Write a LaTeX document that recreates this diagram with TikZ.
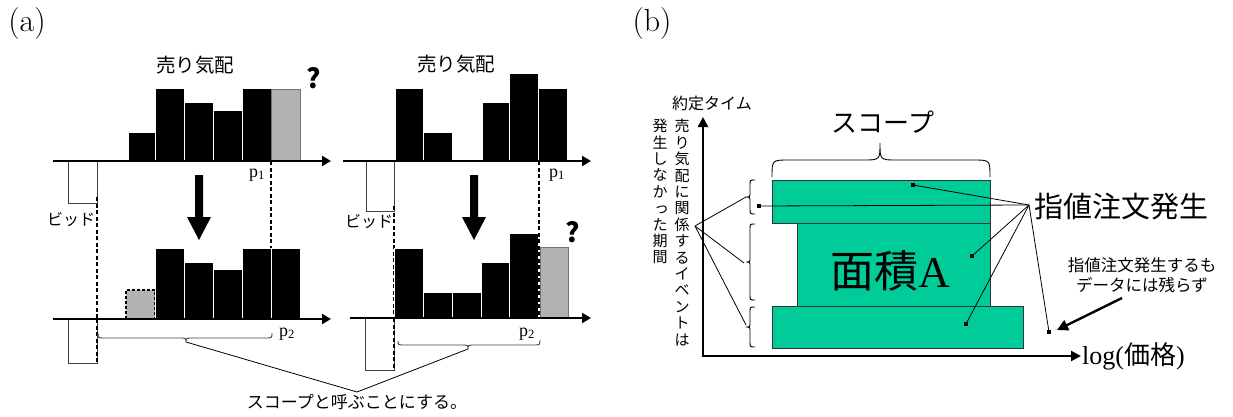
\documentclass[tikz,border=0pt]{standalone}
\usepackage{fontspec}
\newfontfamily\jp{Noto Sans CJK JP}
\newfontfamily\tms{Liberation Serif}
\usetikzlibrary{arrows.meta}
\definecolor{areagreen}{RGB}{0,204,153}
\definecolor{bargray}{RGB}{178,178,178}
\tikzset{
  bar/.style={fill=black, draw=white, line width=1pt},
  gbar/.style={fill=bargray, draw=black!55, line width=0.6pt},
  gbardash/.style={fill=bargray, draw=black, line width=1.2pt, dash pattern=on 3pt off 2pt},
  axisline/.style={line width=2.6pt, -{Triangle[length=9pt,width=10pt]}},
  baxis/.style={line width=2.2pt, -{Triangle[length=10pt,width=10pt]}},
  dashv/.style={line width=1.6pt, dash pattern=on 4pt off 2.5pt},
  bidbox/.style={draw=black!75, line width=0.8pt, fill=white},
  thin/.style={line width=0.8pt},
  bracepath/.style={line width=0.9pt, draw=black!75},
  dot/.style={fill=black, minimum size=3.5pt, inner sep=0pt, rectangle},
  area/.style={fill=areagreen, draw=black!80, line width=0.8pt},
  lbl/.style={inner sep=0pt},
  qmark/.style={inner sep=0pt, font=\jp\bfseries\fontsize{27}{27}\selectfont},
}
\begin{document}
\begin{tikzpicture}[x=1pt,y=-1pt]
\useasboundingbox (0,0) rectangle (1233,417);

% ---------- panel labels ----------
\node[lbl, font=\fontsize{32}{32}\selectfont] (pa) at (27,24) {(a)};
\node[lbl, font=\fontsize{32}{32}\selectfont] (pb) at (652,24) {(b)};

% ================= (a) left chart =================
\node[lbl, font=\jp\fontsize{19.5}{20}\selectfont] (sl) at (195,65) {売り気配};
\foreach \a/\b/\t in {128/155/132, 155/184/89, 184/213/103, 213/242/111, 242/271/89}
  \draw[bar] (\a,161) rectangle (\b,\t);
\draw[gbar] (271,161) rectangle (300,89);
\node[qmark] (q1) at (314,78) {?};
\draw[bidbox] (68,161) rectangle (97,203);
\draw[dashv] (271,161) -- (271,248);
\draw[axisline] (53,161) -- (331,161);
\node[lbl, font=\tms\fontsize{18}{18}\selectfont] (p1l) at (257,175) {p\textsubscript{1}};
\node[lbl, font=\jp\fontsize{16}{16}\selectfont] (bl) at (71,220) {ビッド};
\draw[dashv] (97,197) -- (97,363);
\fill (195,175) -- (203,175) -- (203,217) -- (211,217) -- (199,240) -- (187,217) -- (195,217) -- cycle;

\draw[gbardash] (126,319) rectangle (155,290);
\foreach \a/\b/\t in {155/184/248, 184/213/262, 213/242/269, 242/271/248, 271/300/248}
  \draw[bar] (\a,319) rectangle (\b,\t);
\draw[bidbox] (68,319) rectangle (97,363);
\draw[dashv] (97,319) -- (97,363);
\draw[axisline] (53,319) -- (331,319);
\node[lbl, font=\tms\fontsize{18}{18}\selectfont] (p2l) at (287,334) {p\textsubscript{2}};
\draw[bracepath] (98,333) .. controls (98,338) .. (105,338) -- (179,338) .. controls (186,338) .. (186,342)
   .. controls (186,338) .. (193,338) -- (265,338) .. controls (272,338) .. (272,333);
\coordinate (btl) at (186,342);

% ================= (a) right chart =================
\node[lbl, font=\jp\fontsize{19.5}{20}\selectfont] (sr) at (456,64) {売り気配};
\foreach \a/\b/\t in {395/423/89, 423/452/132, 482/509/103, 509/538/74, 538/567/89}
  \draw[bar] (\a,161) rectangle (\b,\t);
\draw[bidbox] (366,161) rectangle (394,211);
\draw[axisline] (343,161) -- (591,161);
\node[lbl, font=\tms\fontsize{18}{18}\selectfont] (p1r) at (557,175) {p\textsubscript{1}};
\node[lbl, font=\jp\fontsize{16}{16}\selectfont] (br) at (369,222) {ビッド};
\draw[dashv] (394,206) -- (394,370);
\fill (470,175) -- (478,175) -- (478,217) -- (486,217) -- (474,240) -- (462,217) -- (470,217) -- cycle;

\foreach \a/\b/\t in {394/423/248, 423/452/292, 452/481/292, 481/509/262, 509/538/233}
  \draw[bar] (\a,318) rectangle (\b,\t);
\draw[gbar] (540,318) rectangle (568,247);
\node[qmark] (q2) at (573,232) {?};
\draw[dashv] (539,161) -- (539,318);
\draw[bidbox] (365,318) rectangle (394,370);
\draw[dashv] (394,318) -- (394,370);
\draw[axisline] (350,318) -- (591,318);
\node[lbl, font=\tms\fontsize{18}{18}\selectfont] (p2r) at (527,334) {p\textsubscript{2}};
\draw[bracepath] (398,341) .. controls (398,345) .. (405,345) -- (461,345) .. controls (468,345) .. (468,349)
   .. controls (468,345) .. (475,345) -- (533,345) .. controls (540,345) .. (540,340);
\coordinate (btr) at (468,349);

\coordinate (scv) at (357,392);
\draw[thin] (btl) -- (scv) -- (btr);
\node[lbl, font=\jp\fontsize{17}{17}\selectfont] (scope) at (357,402) {スコープと呼ぶことにする。};

% ================= (b) =================
\draw[area] (772,306) rectangle (1023,348);
\draw[area] (797,223) rectangle (990,306);
\draw[area] (772,180) rectangle (990,223);

\draw[baxis] (703,357) -- (703,117);
\draw[baxis] (702,356) -- (1081,356);

\node[lbl, font=\jp\fontsize{16}{16}\selectfont] (yl) at (712,103) {約定タイム};
\node[lbl, anchor=west, font=\fontsize{26}{26}\selectfont] (xl) at (1082,356) {\tms log(\jp 価格\tms )};

\node[lbl, anchor=north, align=center, font=\jp\fontsize{15}{16.4}\selectfont] (vt1) at (682,119)
  {売\\り\\気\\配\\に\\関\\係\\す\\る\\イ\\ベ\\ン\\ト\\は};
\node[lbl, anchor=north, align=center, font=\jp\fontsize{15}{16.4}\selectfont] (vt2) at (660,119)
  {発\\生\\し\\な\\か\\\hspace{3pt}っ\\た\\期\\間};

\node[lbl, font=\jp\fontsize{26}{26}\selectfont] (sc) at (883,122) {スコープ};
\draw[bracepath, draw=black] (772,177) .. controls (772,160) .. (789,160) -- (863,160) .. controls (880,160) .. (880,143)
   .. controls (880,160) .. (897,160) -- (973,160) .. controls (990,160) .. (990,177);

\node[lbl, font=\fontsize{44}{44}\selectfont] (ar) at (890,271) {\jp 面積\tms A};

% left braces
\draw[bracepath, draw=black] (755,180) .. controls (750,180) .. (750,185) -- (750,192) .. controls (750,197) .. (746,197)
   .. controls (750,197) .. (750,202) -- (750,209) .. controls (750,214) .. (755,214);
\draw[bracepath, draw=black] (755,224) .. controls (750,224) .. (750,229) -- (750,257) .. controls (750,262) .. (746,262)
   .. controls (750,262) .. (750,267) -- (750,295) .. controls (750,300) .. (755,300);
\draw[bracepath, draw=black] (755,307) .. controls (750,307) .. (750,312) -- (750,322) .. controls (750,327) .. (746,327)
   .. controls (750,327) .. (750,332) -- (750,342) .. controls (750,347) .. (755,347);
\coordinate (lb1) at (746,197);
\coordinate (lb2) at (744,263);
\coordinate (lb3) at (746,325);
\coordinate (lcv) at (695,226);
\draw[thin] (lcv) -- (lb1);
\draw[thin] (lcv) -- (lb2);
\draw[thin] (lcv) -- (lb3);

% dots and leader lines
\node[dot] (d1) at (913,185) {};
\node[dot] (d2) at (759,206) {};
\node[dot] (d3) at (972,256) {};
\node[dot] (d4) at (966,324) {};
\node[dot] (d5) at (1049,332) {};
\coordinate (rcv) at (1029,205);
\node[lbl, anchor=west, font=\jp\fontsize{29}{29}\selectfont] (lim) at (1034,207) {指値注文発生};
\draw[thin] (rcv) -- (d1);
\draw[thin] (rcv) -- (d2);
\draw[thin] (rcv) -- (d3);
\draw[thin] (rcv) -- (d4);
\draw[thin] (rcv) -- (d5);

\node[lbl, align=center, font=\jp\fontsize{16.5}{20}\selectfont] (note) at (1142,275) {指値注文発生するも\\データには残らず};
\coordinate (na) at (1122,298);
\coordinate (nb) at (1057,330);
\draw[line width=2.4pt, -{Triangle[length=11pt,width=11pt]}] (na) -- (nb);
\end{tikzpicture}
\end{document}
